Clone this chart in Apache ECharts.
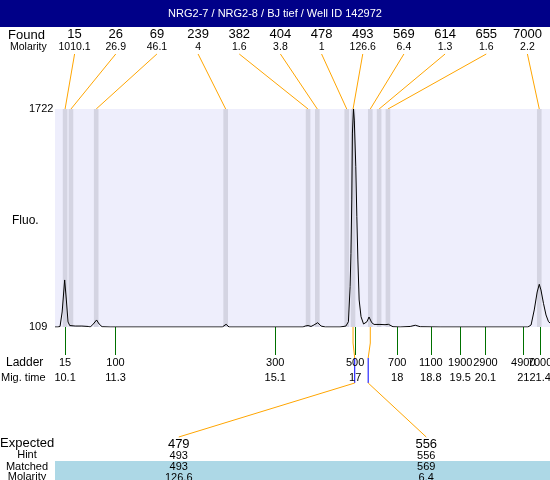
<!DOCTYPE html>
<html><head><meta charset="utf-8">
<script src="https://cdn.jsdelivr.net/npm/echarts@6/dist/echarts.min.js"></script>
<style>html,body{margin:0;padding:0;background:#fff}#c{width:550px;height:480px}</style>
</head><body><div id="c"></div>
<script>
const titleText = 'NRG2-7 / NRG2-8 / BJ tief / Well ID 142972';
const foundSizes = ['15','26','69','239','382','404','478','493','569','614','655','7000'];
const foundMolarity = ['1010.1','26.9','46.1','4','1.6','3.8','1','126.6','6.4','1.3','1.6','2.2'];
const foundTimes = [10.10, 10.24, 10.84, 13.92, 15.88, 16.10, 16.80, 16.95, 17.36, 17.57, 17.78, 21.38];
const ladderSizes = ['15','100','300','500','700','1100','1900','2900','4900','7000'];
const ladderTimes = [10.1, 11.3, 15.1, 17, 18, 18.8, 19.5, 20.1, 21, 21.4];
const yTicks = [109, 1722];
const traceTimes = [9.86, 9.93, 9.98, 10.03, 10.09, 10.13, 10.17, 10.21, 10.34, 10.50,
  10.65, 10.70, 10.77, 10.85, 10.91, 10.98, 11.17, 13.84, 13.93, 14.00,
  15.76, 15.81, 15.88, 15.95, 16.02, 16.11, 16.19, 16.29, 16.64, 16.78,
  16.84, 16.88, 16.90, 16.92, 16.935, 16.96, 16.98, 17.015, 17.04, 17.065,
  17.095, 17.14, 17.20, 17.28, 17.33, 17.395, 17.45, 17.59, 17.71, 17.79,
  17.90, 18.07, 18.31, 18.43, 18.55, 19.02, 21.11, 21.185, 21.26, 21.33,
  21.38, 21.42, 21.48, 21.54, 21.60, 21.635];
const traceFluo = [109, 109, 113, 220, 457, 309, 146, 120, 116, 116,
  113, 109, 131, 161, 131, 111, 109, 109, 129, 109,
  109, 116, 120, 113, 124, 141, 116, 109, 109, 116,
  148, 407, 654, 1049, 1544, 1722, 1640, 1295, 925, 605,
  309, 185, 131, 148, 183, 141, 128, 128, 126, 129,
  111, 109, 113, 122, 111, 109, 109, 124, 235, 368,
  425, 383, 284, 198, 148, 139];
const expectedSizes = ['479','556'];
const expectedTimes = [16.99, 17.31];
const hintSizes = ['493','556'];
const matchedSizes = ['493','569'];
const matchedMolarity = ['126.6','6.4'];
const matchedPeakIndex = [7, 8];

const FONT = 'Liberation Sans';
const xMin = 9.86, xMax = 21.635;
const bandHalf = 0.055;

const chart = echarts.init(document.getElementById('c'), null, {renderer: 'canvas'});
const lineData = traceTimes.map((t, i) => [t, traceFluo[i]]);
const bands = foundTimes.map(t => [{xAxis: t - bandHalf}, {xAxis: t + bandHalf}]);

function ladderAxis(values) {
  return {gridIndex: 0, type: 'value', min: xMin, max: xMax, position: 'bottom',
    axisLine: {show: false}, splitLine: {show: false},
    axisTick: {show: true, length: 28, lineStyle: {color: '#007000', width: 1}, customValues: values},
    axisLabel: {customValues: values, margin: 28, color: '#000', fontFamily: FONT,
      showMinLabel: true, showMaxLabel: true, hideOverlap: false,
      formatter: (v) => {
        const i = ladderTimes.findIndex(t => Math.abs(t - v) < 1e-6);
        return `{a|${ladderSizes[i]}}\n{a|${ladderTimes[i]}}`;
      },
      rich: {a: {fontSize: 11, lineHeight: 15, color: '#000', fontFamily: FONT}}}};
}
const ladderEven = ladderTimes.filter((t, i) => i % 2 === 0);
const ladderOdd = ladderTimes.filter((t, i) => i % 2 === 1);

const gridBase = {outerBoundsMode: 'none', containLabel: false, borderWidth: 0};
const option = {
  animation: false,
  textStyle: {fontFamily: FONT},
  grid: [
    Object.assign({left: 55, top: 109, width: 495, height: 218, show: true, backgroundColor: '#EEEEFC'}, gridBase),
    Object.assign({left: 54, top: 53, width: 494, height: 1, show: false}, gridBase),
    Object.assign({left: 55, top: 461, width: 495, height: 19, show: true, backgroundColor: '#ADD8E6'}, gridBase),
    Object.assign({left: 55, top: 437, width: 495, height: 1, show: false}, gridBase)
  ],
  xAxis: [
    {gridIndex: 0, type: 'value', min: xMin, max: xMax, show: false, position: 'top'},
    {gridIndex: 1, type: 'category', data: foundSizes, position: 'top',
      axisLine: {show: false}, axisTick: {show: false}, splitLine: {show: false},
      axisLabel: {interval: 0, margin: 0, color: '#000', fontFamily: FONT,
        formatter: (v, i) => `{a|${v}}\n{b|${foundMolarity[i]}}`,
        rich: {a: {fontSize: 13, lineHeight: 13, color: '#000', fontFamily: FONT},
               b: {fontSize: 10.5, lineHeight: 12, color: '#000', fontFamily: FONT}}}},
    ladderAxis(ladderEven),
    {gridIndex: 2, type: 'category', data: [], show: false},
    {gridIndex: 3, type: 'category', data: expectedSizes, position: 'bottom',
      axisLine: {show: false}, axisTick: {show: false}, splitLine: {show: false},
      axisLabel: {interval: 0, margin: 0, color: '#000', fontFamily: FONT,
        formatter: (v, i) => `{e|${v}}\n{h|${hintSizes[i]}}\n{m|${matchedSizes[i]}}\n{m|${matchedMolarity[i]}}`,
        rich: {e: {fontSize: 13, lineHeight: 12, color: '#000', fontFamily: FONT},
               h: {fontSize: 11, lineHeight: 12, color: '#000', fontFamily: FONT},
               m: {fontSize: 11, lineHeight: 10.5, color: '#000', fontFamily: FONT}}}},
    ladderAxis(ladderOdd)
  ],
  yAxis: [
    {gridIndex: 0, type: 'value', min: yTicks[0], max: yTicks[1],
      axisLine: {show: false}, axisTick: {show: false}, splitLine: {show: false},
      axisLabel: {customValues: yTicks, align: 'left', margin: 26, color: '#000', fontSize: 11, fontFamily: FONT,
        showMinLabel: true, showMaxLabel: true, padding: [3, 0, 0, 0],
        formatter: v => String(v)}},
    {gridIndex: 1, type: 'value', show: false},
    {gridIndex: 2, type: 'value', show: false},
    {gridIndex: 3, type: 'value', show: false}
  ],
  series: [{
    type: 'line', xAxisIndex: 0, yAxisIndex: 0, data: lineData,
    showSymbol: false, symbol: 'none', silent: true,
    lineStyle: {color: '#000', width: 1},
    markArea: {silent: true, itemStyle: {color: '#D4D4E2'}, data: bands}
  }]
};
chart.setOption(option);

const orange = '#FFA500';
const g = [
  {type: 'rect', shape: {x: 0, y: 0, width: 550, height: 27}, style: {fill: '#000088'}, z: 10},
  {type: 'text', x: 275, y: 14, z: 11, style: {text: titleText, fill: '#fff', font: `11px "${FONT}"`, textAlign: 'center', textVerticalAlign: 'middle'}},
  {type: 'text', x: 8, y: 35, style: {text: 'Found', fill: '#000', font: `13px "${FONT}"`, textVerticalAlign: 'middle'}},
  {type: 'text', x: 10, y: 47, style: {text: 'Molarity', fill: '#000', font: `10.5px "${FONT}"`, textVerticalAlign: 'middle'}},
  {type: 'text', x: 12, y: 221, style: {text: 'Fluo.', fill: '#000', font: `12px "${FONT}"`, textVerticalAlign: 'middle'}},
  {type: 'text', x: 6, y: 363, style: {text: 'Ladder', fill: '#000', font: `12px "${FONT}"`, textVerticalAlign: 'middle'}},
  {type: 'text', x: 1, y: 378, style: {text: 'Mig. time', fill: '#000', font: `11px "${FONT}"`, textVerticalAlign: 'middle'}},
  {type: 'text', x: 0, y: 443, style: {text: 'Expected', fill: '#000', font: `13px "${FONT}"`, textVerticalAlign: 'middle'}},
  {type: 'text', x: 27, y: 455, style: {text: 'Hint', fill: '#000', font: `11px "${FONT}"`, textAlign: 'center', textVerticalAlign: 'middle'}},
  {type: 'text', x: 27, y: 466.5, style: {text: 'Matched', fill: '#000', font: `11px "${FONT}"`, textAlign: 'center', textVerticalAlign: 'middle'}},
  {type: 'text', x: 27, y: 477, style: {text: 'Molarity', fill: '#000', font: `11px "${FONT}"`, textAlign: 'center', textVerticalAlign: 'middle'}}
];
foundSizes.forEach((s, i) => {
  const lx = chart.convertToPixel({xAxisIndex: 1}, i);
  const p = chart.convertToPixel({gridIndex: 0}, [foundTimes[i], yTicks[1]]);
  g.push({type: 'line', shape: {x1: lx, y1: 54, x2: p[0], y2: p[1]}, style: {stroke: orange, lineWidth: 1}});
});
matchedPeakIndex.forEach((pi, j) => {
  const b = chart.convertToPixel({gridIndex: 0}, [foundTimes[pi], yTicks[0]]);
  const e = chart.convertToPixel({gridIndex: 0}, [expectedTimes[j], yTicks[0]]);
  const cx = chart.convertToPixel({xAxisIndex: 4}, j);
  g.push({type: 'polyline', shape: {points: [[b[0], b[1]], [b[0], b[1] + 16], [e[0], b[1] + 31]]}, style: {stroke: orange, lineWidth: 1, fill: null}});
  g.push({type: 'line', shape: {x1: e[0], y1: b[1] + 31, x2: e[0], y2: b[1] + 56}, style: {stroke: '#0000FF', lineWidth: 1}});
  g.push({type: 'line', shape: {x1: e[0], y1: b[1] + 56, x2: cx, y2: 437}, style: {stroke: orange, lineWidth: 1}});
});
chart.setOption({graphic: g});
</script>
</body></html>
